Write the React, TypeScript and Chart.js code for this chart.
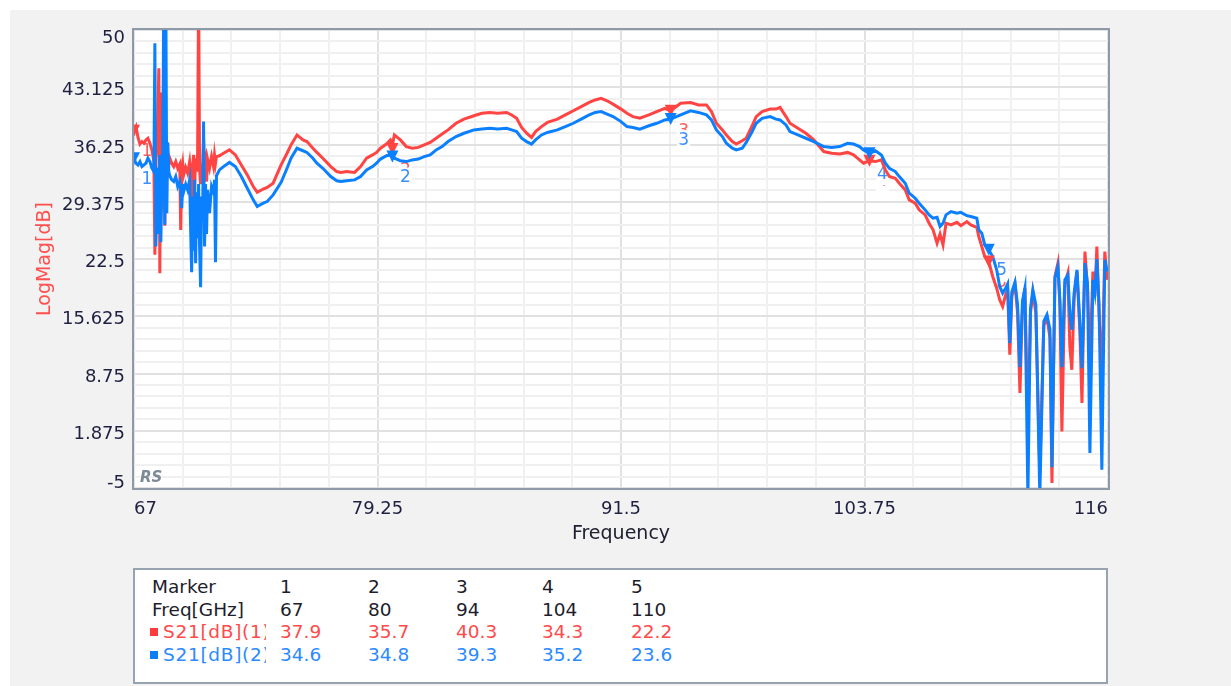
import React, { useEffect, useRef } from 'react';
import { Chart, registerables } from 'chart.js';

Chart.register(...registerables);

const FONT = '"DejaVu Sans", Verdana, sans-serif';

// ---- axis ticks ----
const xMajorTicks = [67, 79.25, 91.5, 103.75, 116];
const yMajorTicks = [-5, 1.875, 8.75, 15.625, 22.5, 29.375, 36.25, 43.125, 50];
const minorDivisions = 5;

// ---- markers ----
const markerNumbers = [1, 2, 3, 4, 5];
const markerFreqs = [67, 80, 94, 104, 110];
const markerS21_1 = [37.9, 35.7, 40.3, 34.3, 22.2];
const markerS21_2 = [34.6, 34.8, 39.3, 35.2, 23.6];

// ---- traces: low-frequency (noisy) part ----
const freqLow = [
  67.0, 67.1, 67.2, 67.3, 67.4, 67.5, 67.6, 67.7, 67.8, 67.9,
  68.0, 68.05, 68.1, 68.15, 68.2, 68.25, 68.3, 68.35, 68.4, 68.45,
  68.5, 68.55, 68.6, 68.65, 68.7, 68.75, 68.8, 68.9, 69.0, 69.1,
  69.2, 69.3, 69.35, 69.4, 69.45, 69.5, 69.6, 69.7, 69.8, 69.85,
  69.9, 69.95, 70.0, 70.05, 70.1, 70.15, 70.2, 70.25, 70.3, 70.35,
  70.4, 70.45, 70.5, 70.55, 70.6, 70.65, 70.7, 70.8, 70.9, 71.0,
  71.05, 71.1, 71.15,
];
const s21RedLow = [
  37.9, 38.4, 37.1, 36.3, 36.6, 36.4, 36.8, 37.0, 36.4, 35.6,
  34.2, 23.0, 34.6, 36.0, 40.0, 45.4, 20.8, 42.5, 38.0, 34.2,
  35.5, 26.5, 36.0, 34.4, 35.0, 33.8, 34.6, 34.0, 33.6, 34.2,
  33.4, 33.9, 26.0, 33.2, 34.0, 32.6, 33.5, 32.8, 34.2, 33.0,
  24.2, 33.5, 35.0, 31.0, 34.6, 33.0, 35.2, 55.0, 33.2, 31.5,
  34.0, 33.0, 37.0, 33.5, 34.2, 31.8, 34.5, 33.4, 34.8, 33.6,
  35.0, 34.0, 34.8,
];
const s21BlueLow = [
  34.6, 34.0, 33.8, 34.2, 33.6, 33.8, 34.0, 34.6, 34.2, 33.4,
  33.0, 48.4, 24.0, 30.0, 33.5, 25.5, 35.0, 24.5, 31.0, 36.0,
  55.0, 26.6, 55.0, 28.0, 36.5, 33.0, 32.5, 32.0, 31.8, 32.4,
  31.2, 31.8, 30.8, 28.6, 31.5, 30.6, 31.5, 30.8, 32.0, 26.0,
  20.9, 30.0, 23.5, 32.0, 22.0, 30.5, 25.0, 31.5, 24.0, 19.1,
  30.0, 27.0, 39.0, 24.0, 31.5, 25.5, 30.8, 28.0, 31.2, 30.5,
  32.0, 22.1, 32.5,
];

// ---- traces: middle part ----
const freqMid = [
  71.3, 71.5, 71.8, 72.1, 72.4, 72.7, 73.0, 73.2, 73.5, 73.7,
  74.0, 74.4, 74.7, 74.9, 75.2, 75.5, 75.7, 76.0, 76.2, 76.5,
  76.9, 77.2, 77.4, 77.7, 78.1, 78.4, 78.7, 79.0, 79.2, 79.4,
  79.7, 79.9, 80.0, 80.1, 80.4, 80.7, 81.0, 81.3, 81.6, 81.9,
  82.2, 82.5, 82.8, 83.2, 83.6, 84.1, 84.5, 84.9, 85.3, 85.75,
  86.0, 86.25, 86.5, 86.75, 87.0, 87.2, 87.5, 87.8, 88.3, 88.7,
  89.1, 89.5, 89.9, 90.2, 90.5, 90.8, 91.1, 91.5, 91.8, 92.1,
  92.45, 92.9, 93.3, 93.7, 94.0, 94.5, 95.0, 95.4, 95.8, 96.05,
  96.3, 96.6, 96.8, 97.1, 97.3, 97.6, 97.8, 98.1, 98.3, 98.6,
  99.0, 99.3, 99.5, 99.8, 100.0, 100.4, 100.8, 101.2, 101.7, 102.1,
  102.5, 102.9, 103.2, 103.5, 103.7, 104.0, 104.3, 104.6, 104.8, 105.0,
  105.3, 105.5, 105.8, 106.0, 106.3, 106.5, 106.8, 107.0, 107.2, 107.4,
  107.55, 107.7, 107.85, 108.1, 108.4, 108.6, 108.9, 109.1, 109.4, 109.5,
  109.65, 109.8, 110.0, 110.2, 110.4, 110.55, 110.7, 110.85,
];
const s21RedMid = [
  34.9, 35.2, 35.6, 35.0, 33.8, 32.6, 31.2, 30.5, 30.9, 31.1,
  31.6, 33.8, 35.2, 36.2, 37.4, 36.8, 36.6, 35.8, 35.3, 34.6,
  33.6, 33.0, 32.9, 33.0, 32.9, 33.6, 34.6, 35.0, 35.3, 35.8,
  36.3, 36.8, 36.2, 37.4, 36.8, 36.0, 35.8, 35.9, 36.2, 36.5,
  37.0, 37.5, 38.0, 38.8, 39.3, 39.7, 40.0, 40.1, 40.0, 40.1,
  39.8, 39.4, 38.3, 37.6, 37.1, 37.8, 38.4, 38.9, 39.3, 39.8,
  40.3, 40.8, 41.3, 41.6, 41.8, 41.5, 41.1, 40.5, 40.0, 39.6,
  39.4, 39.8, 40.2, 40.6, 40.3, 41.2, 41.3, 41.0, 41.0, 40.2,
  38.8, 38.0, 37.4, 36.6, 36.3, 36.7, 37.0, 38.5, 39.6, 40.2,
  40.5, 40.5, 40.7, 39.6, 38.8, 38.2, 37.6, 36.8, 35.4, 35.2,
  35.1, 35.3, 35.0, 34.4, 34.0, 34.3, 34.2, 34.4, 33.2, 32.4,
  32.2, 31.6, 30.8, 29.6, 29.2, 28.4, 27.8, 26.8, 26.0, 24.4,
  25.5, 24.2, 26.8, 26.6, 26.9, 26.5, 27.0, 26.6, 26.3, 25.2,
  24.0, 22.8, 22.2, 20.4, 19.0, 17.6, 16.8, 18.2,
];
const s21BlueMid = [
  33.2, 33.6, 34.1, 33.6, 32.4, 31.0, 29.6, 28.8, 29.2, 29.4,
  30.2, 31.7, 33.4, 34.6, 35.8, 35.5, 35.3, 34.6, 34.0, 33.4,
  32.4, 31.9, 31.8, 31.9, 32.0, 32.4, 33.2, 33.6, 34.0, 34.5,
  34.9, 35.0, 34.8, 34.6, 34.3, 34.2, 34.4, 34.5, 34.8, 35.0,
  35.6, 36.0, 36.6, 37.2, 37.6, 38.0, 38.1, 38.2, 38.1, 38.2,
  38.0, 37.8, 37.0, 36.6, 36.3, 36.8, 37.4, 37.7, 38.0, 38.4,
  38.8, 39.3, 39.8, 40.1, 40.2, 39.9, 39.6, 39.0, 38.4, 38.3,
  38.1, 38.5, 38.8, 39.2, 39.3, 39.8, 40.3, 40.1, 39.8, 39.2,
  38.0, 37.2, 36.4, 35.8, 35.6, 35.8, 36.5, 37.8, 38.8, 39.4,
  39.6, 39.3, 39.2, 38.6, 37.8, 37.4, 37.0, 36.6, 36.0, 35.9,
  36.0, 36.4, 36.3, 36.0, 35.6, 35.2, 35.5, 35.0, 34.0, 33.4,
  33.0, 32.4, 31.6, 30.4, 29.8, 29.2, 28.4, 27.8, 27.4, 27.5,
  26.4, 26.8, 27.8, 28.2, 28.0, 28.1, 27.7, 27.6, 27.4, 26.0,
  25.6, 24.2, 23.6, 22.8, 21.2, 19.2, 18.4, 19.0,
];

// ---- traces: high-frequency (noisy) part ----
const freqHigh = [
  110.95, 111.06, 111.16, 111.32, 111.45, 111.57, 111.7, 111.82, 111.97, 112.1,
  112.22, 112.37, 112.57, 112.77, 112.93, 113.08, 113.18, 113.33, 113.48, 113.58,
  113.68, 113.83, 113.98, 114.08, 114.18, 114.3, 114.44, 114.58, 114.69, 114.84,
  114.97, 115.09, 115.24, 115.34, 115.44, 115.55, 115.69, 115.84, 115.95,
];
const s21RedHigh = [
  18.8, 11.0, 18.0, 19.5, 16.0, 6.4, 17.0, 19.0, 2.0, 16.0,
  18.5, 16.0, -3.0, 14.5, 15.5, 13.0, -4.4, 20.4, 22.0, 17.0,
  1.8, 19.5, 20.8, 12.0, 9.2, 18.0, 21.0, 14.0, 5.2, 23.4,
  19.0, 10.0, 21.0, 18.0, 24.0, 16.0, 8.3, 23.4, 20.0,
];
const s21BlueHigh = [
  19.5, 12.4, 18.5, 19.7, 17.0, 9.5, 17.5, 19.0, -6.0, 16.5,
  18.8, 17.0, -6.0, 15.0, 15.8, 14.0, -2.5, 20.2, 21.6, 17.5,
  9.5, 20.0, 20.6, 16.0, 14.0, 18.5, 21.2, 15.0, 9.4, 22.0,
  19.5, -0.8, 20.0, 18.5, 22.5, 17.0, -2.8, 22.4, 21.0,
];

const RED = '#ff4444';
const BLUE = '#0a80ff';
const TICK_COLOR = '#1f2040';
const MAJOR_GRID = '#e1e1e1';
const MINOR_GRID = '#f0f0f0';

function withMinor(majors: number[]): number[] {
  const out: number[] = [];
  for (let i = 0; i < majors.length - 1; i++) {
    for (let k = 0; k < minorDivisions; k++) {
      out.push(majors[i] + ((majors[i + 1] - majors[i]) * k) / minorDivisions);
    }
  }
  out.push(majors[majors.length - 1]);
  return out;
}

function fmt(v: number): string {
  return String(Math.round(v * 1000) / 1000);
}

function toPoints(f: number[], v: number[]) {
  return f.map((x, i) => ({ x, y: v[i] }));
}

export default function App() {
  const canvasRef = useRef<HTMLCanvasElement | null>(null);

  useEffect(() => {
    const canvas = canvasRef.current;
    if (!canvas) return;
    const ticksX = withMinor(xMajorTicks);
    const ticksY = withMinor(yMajorTicks);
    const freqAll = [...freqLow, ...freqMid, ...freqHigh];
    const redAll = [...s21RedLow, ...s21RedMid, ...s21RedHigh];
    const blueAll = [...s21BlueLow, ...s21BlueMid, ...s21BlueHigh];

    const gridColor = (c: any) => (c.index % minorDivisions === 0 ? MAJOR_GRID : MINOR_GRID);

    const decorPlugin = {
      id: 'decor',
      beforeDraw(chart: any) {
        const { ctx, chartArea: a } = chart;
        ctx.save();
        ctx.fillStyle = '#ffffff';
        ctx.fillRect(a.left, a.top, a.right - a.left, a.bottom - a.top);
        ctx.restore();
      },
      beforeDatasetsDraw(chart: any) {
        const { ctx, chartArea: a, scales } = chart;
        ctx.save();
        // RS logo
        ctx.font = `italic bold 15px ${FONT}`;
        ctx.fillStyle = '#7d8996';
        ctx.textAlign = 'left';
        ctx.textBaseline = 'alphabetic';
        ctx.fillText('RS', a.left + 6, a.bottom - 6);
        // marker labels
        ctx.font = `17px ${FONT}`;
        ctx.textAlign = 'center';
        ctx.textBaseline = 'middle';
        const drawLabels = (vals: number[], color: string) => {
          markerNumbers.forEach((n, i) => {
            const x = scales.x.getPixelForValue(markerFreqs[i]) + 13;
            const y = scales.y.getPixelForValue(vals[i]) + 20;
            const w = ctx.measureText(String(n)).width + 2;
            ctx.fillStyle = '#ffffff';
            ctx.fillRect(x - w / 2, y - 9, w, 21);
            ctx.fillStyle = color;
            ctx.fillText(String(n), x, y + 1);
          });
        };
        drawLabels(markerS21_1, '#ff5a5a');
        drawLabels(markerS21_2, '#3a8eff');
        ctx.restore();
      },
      afterDatasetsDraw(chart: any) {
        const { ctx, chartArea: a, scales } = chart;
        ctx.save();
        ctx.beginPath();
        ctx.rect(a.left, a.top, a.right - a.left, a.bottom - a.top);
        ctx.clip();
        const tri = (vals: number[], color: string) => {
          markerFreqs.forEach((f, i) => {
            const x = scales.x.getPixelForValue(f);
            const y = scales.y.getPixelForValue(vals[i]);
            ctx.fillStyle = color;
            ctx.beginPath();
            ctx.moveTo(x - 6, y - 6);
            ctx.lineTo(x + 6, y - 6);
            ctx.lineTo(x, y + 6);
            ctx.closePath();
            ctx.fill();
          });
        };
        tri(markerS21_1, RED);
        tri(markerS21_2, BLUE);
        ctx.restore();
      },
      afterDraw(chart: any) {
        const { ctx, chartArea: a, scales } = chart;
        ctx.save();
        // y tick labels
        ctx.font = `18px ${FONT}`;
        ctx.fillStyle = TICK_COLOR;
        ctx.textAlign = 'right';
        ctx.textBaseline = 'alphabetic';
        yMajorTicks.forEach((v) => {
          const p = scales.y.getPixelForValue(v);
          const base = Math.min(Math.max(p + 8, a.top + 13), a.bottom);
          ctx.fillText(fmt(v), a.left - 9, base);
        });
        // plot border
        ctx.strokeStyle = '#8e9aa8';
        ctx.lineWidth = 2;
        ctx.strokeRect(a.left - 1, a.top - 1, a.right - a.left + 2, a.bottom - a.top + 2);
        ctx.restore();
      },
    };

    const chart = new Chart(canvas, {
      type: 'line',
      data: {
        datasets: [
          {
            label: 'S21[dB](2)',
            data: toPoints(freqAll, blueAll),
            borderColor: BLUE,
            borderWidth: 3,
            pointRadius: 0,
            tension: 0,
            order: 1,
          },
          {
            label: 'S21[dB](1)',
            data: toPoints(freqAll, redAll),
            borderColor: RED,
            borderWidth: 3,
            pointRadius: 0,
            tension: 0,
            order: 2,
          },
        ],
      },
      options: {
        animation: false,
        responsive: false,
        devicePixelRatio: 1,
        parsing: false,
        normalized: true,
        layout: { padding: { left: 0, top: 20, right: 123, bottom: 0 } },
        plugins: {
          legend: { display: false },
          tooltip: { enabled: false },
        },
        events: [],
        scales: {
          x: {
            type: 'linear',
            min: 67,
            max: 116,
            afterBuildTicks: (s: any) => {
              s.ticks = ticksX.map((v) => ({ value: v }));
            },
            afterFit: (s: any) => {
              s.height = 70;
            },
            grid: { color: gridColor, lineWidth: 2, drawTicks: false },
            border: { display: false },
            ticks: {
              autoSkip: false,
              maxRotation: 0,
              align: 'inner',
              padding: 11,
              color: TICK_COLOR,
              font: { family: FONT, size: 18 },
              callback: (v: any, i: number) => (i % minorDivisions === 0 ? fmt(Number(v)) : ''),
            },
            title: {
              display: true,
              text: 'Frequency',
              color: '#202030',
              font: { family: FONT, size: 19 },
              padding: { top: 0, bottom: 13 },
            },
          },
          y: {
            type: 'linear',
            min: -5,
            max: 50,
            afterBuildTicks: (s: any) => {
              s.ticks = ticksY.map((v) => ({ value: v }));
            },
            afterFit: (s: any) => {
              s.width = 124;
            },
            grid: { color: gridColor, lineWidth: 2, drawTicks: false },
            border: { display: false },
            ticks: { display: false },
            title: {
              display: true,
              text: 'LogMag[dB]',
              color: '#ff5050',
              font: { family: FONT, size: 19 },
              padding: { top: 24, bottom: 0 },
            },
          },
        },
      },
      plugins: [decorPlugin],
    } as any);

    return () => chart.destroy();
  }, []);

  const textColor = '#1d1d2b';
  const redText = '#ff4b4b';
  const blueText = '#2b8aff';
  const colX = [145, 233, 321, 407, 496];
  const rowCenters = [17, 39.5, 62, 84.5];

  const rows: { label: string; color: string; square?: string; values: string[] }[] = [
    { label: 'Marker', color: textColor, values: markerNumbers.map(String) },
    { label: 'Freq[GHz]', color: textColor, values: markerFreqs.map(String) },
    { label: 'S21[dB](1)', color: redText, square: '#ff3b3b', values: markerS21_1.map((v) => v.toFixed(1)) },
    { label: 'S21[dB](2)', color: blueText, square: '#0a7ef5', values: markerS21_2.map((v) => v.toFixed(1)) },
  ];

  return (
    <div
      style={{
        position: 'fixed',
        left: 10,
        top: 10,
        width: 1221,
        height: 676,
        background: '#f2f2f2',
        overflow: 'hidden',
      }}
    >
      <canvas
        ref={canvasRef}
        width={1221}
        height={548}
        style={{ position: 'absolute', left: 0, top: 0, width: 1221, height: 548 }}
      />
      <div
        style={{
          position: 'absolute',
          left: 123,
          top: 558,
          width: 975,
          height: 116,
          boxSizing: 'border-box',
          border: '2px solid #97a3b0',
          background: '#ffffff',
          fontFamily: FONT,
          fontSize: 18.5,
        }}
      >
        {rows.map((r, ri) => (
          <div key={ri}>
            {r.square && (
              <div
                style={{
                  position: 'absolute',
                  left: 15,
                  top: rowCenters[ri] - 4,
                  width: 8,
                  height: 8,
                  background: r.square,
                }}
              />
            )}
            <div
              style={{
                position: 'absolute',
                left: r.square ? 28 : 17,
                top: rowCenters[ri] - 11,
                height: 22,
                lineHeight: '22px',
                width: r.square ? 103 : 119,
                overflow: 'hidden',
                whiteSpace: 'nowrap',
                letterSpacing: r.square ? '0.7px' : undefined,
                color: r.color,
              }}
            >
              {r.label}
            </div>
            {r.values.map((v, ci) => (
              <div
                key={ci}
                style={{
                  position: 'absolute',
                  left: colX[ci],
                  top: rowCenters[ri] - 11,
                  height: 22,
                  lineHeight: '22px',
                  whiteSpace: 'nowrap',
                  color: r.color,
                }}
              >
                {v}
              </div>
            ))}
          </div>
        ))}
      </div>
    </div>
  );
}
